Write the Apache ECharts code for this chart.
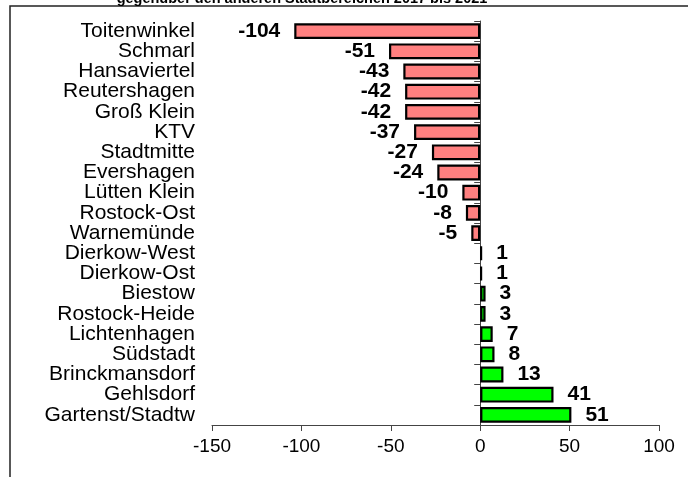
<!DOCTYPE html>
<html>
<head>
<meta charset="utf-8">
<script src="https://cdn.jsdelivr.net/npm/echarts@6/dist/echarts.min.js"></script>
<style>html,body{margin:0;padding:0;background:#fff}#c{width:688px;height:477px}</style>
</head>
<body>
<div id="c"></div>
<script>
const titleText = 'gegenüber den anderen Stadtbereichen 2017 bis 2021';
const categories = ['Toitenwinkel','Schmarl','Hansaviertel','Reutershagen','Groß Klein','KTV','Stadtmitte','Evershagen','Lütten Klein','Rostock-Ost','Warnemünde','Dierkow-West','Dierkow-Ost','Biestow','Rostock-Heide','Lichtenhagen','Südstadt','Brinckmansdorf','Gehlsdorf','Gartenst/Stadtw'];
const values = [-104,-51,-43,-42,-42,-37,-27,-24,-10,-8,-5,1,1,3,3,7,8,13,41,51];
const axisTicks = [-150,-100,-50,0,50,100];

const font = 'Arial, "Liberation Sans", sans-serif';
const gridLeft = 212, gridRight = 29;
const plotW = 688 - gridLeft - gridRight;
const xMin = axisTicks[0], xMax = axisTicks[axisTicks.length-1];
const zeroOffset = (0 - xMin) / (xMax - xMin) * plotW;
const zeroX = gridLeft + zeroOffset;
const labelRight = 195;

const chart = echarts.init(document.getElementById('c'), null, {renderer:'canvas'});
chart.setOption({
  animation:false,
  backgroundColor:'#fff',
  grid:{left:gridLeft,right:gridRight,top:21,bottom:52,containLabel:false,outerBoundsMode:'none'},
  graphic:[
    {type:'rect',shape:{x:10,y:6,width:700,height:500},style:{fill:'none',stroke:'#222',lineWidth:1.5},z:-1},
    {type:'text',x:302,y:6,style:{text:titleText,font:'bold 14.5px '+font,fill:'#000',align:'center',verticalAlign:'bottom'}}
  ],
  xAxis:{type:'value',min:xMin,max:xMax,interval:50,
    axisLine:{show:true,onZero:false,lineStyle:{color:'#444',width:1}},
    axisTick:{show:true,length:6,lineStyle:{color:'#444'}},
    axisLabel:{color:'#000',fontSize:19,fontFamily:font,margin:12},
    splitLine:{show:false}},
  yAxis:{type:'category',data:categories,inverse:true,position:'left',offset:-zeroOffset,
    axisLine:{show:true,onZero:false,lineStyle:{color:'#444',width:1}},
    axisTick:{show:true,length:6,lineStyle:{color:'#444'}},
    axisLabel:{color:'#000',fontSize:21,fontFamily:font,margin:zeroX-labelRight,interval:0}},
  series:[{
    type:'bar',barWidth:'78%',
    data:values.map(v=>({value:v,
      itemStyle:{color:v<0?'#FF8080':'#00FF00',borderColor:'#000',borderWidth:2.2},
      label:{show:true,position:v<0?'left':'right',distance:14,
        formatter:String(v),color:'#000',fontWeight:'bold',fontSize:21,fontFamily:font}}))
  }]
});
</script>
</body>
</html>
